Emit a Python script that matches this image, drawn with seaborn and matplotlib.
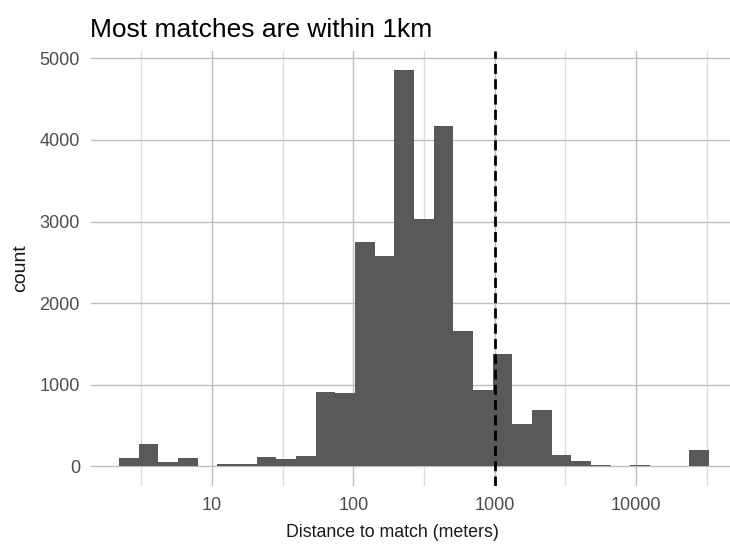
import numpy as np
import pandas as pd
import seaborn as sns
import matplotlib.pyplot as plt
from matplotlib.ticker import FixedLocator, FixedFormatter

# Histogram: bin centres (meters) and bar heights
bin_centers = [2.58, 3.55, 4.90, 6.75, 9.30, 12.8, 17.7, 24.3, 33.5, 46.2,
               63.6, 87.7, 121, 166, 229, 316, 435, 600, 826, 1139,
               1569, 2161, 2979, 4105, 5655, 7792, 10735, 14791, 20379, 28079]
counts = [100, 270, 50, 100, 5, 25, 25, 110, 85, 120,
          905, 895, 2745, 2573, 4853, 3027, 4167, 1654, 931, 1372,
          515, 686, 135, 61, 12, 3, 10, 4, 3, 196]
dist_range = (2.2, 32960)
cutoff = 1000

x_ticks = [10, 100, 1000, 10000]
x_minor = [3.16, 31.6, 316, 3162, 31623]
y_ticks = [0, 1000, 2000, 3000, 4000, 5000]

df = pd.DataFrame({"distance": bin_centers, "count": counts})

sns.set_theme(style="white")
plt.rcParams['font.family'] = ['Liberation Sans', 'DejaVu Sans']

fig = plt.figure(figsize=(7.3, 5.44), dpi=100)
ax = fig.add_axes([91 / 730, 58 / 544, 648 / 730, 435.4 / 544])

sns.histplot(data=df, x="distance", weights="count", bins=30,
             binrange=(np.log10(dist_range[0]), np.log10(dist_range[1])),
             log_scale=True, color="#595959", alpha=1, edgecolor="none",
             linewidth=0, ax=ax)

# dashed cut-off at 1 km
ax.axvline(cutoff, color="black", lw=2.0, ls=(0, (3.6, 1.9)))

ax.set_xlim(10 ** 0.144, 10 ** 4.730)
ax.set_ylim(-243, 5096)
ax.xaxis.set_major_locator(FixedLocator(x_ticks))
ax.xaxis.set_major_formatter(FixedFormatter([str(t) for t in x_ticks]))
ax.xaxis.set_minor_locator(FixedLocator(x_minor))
ax.yaxis.set_major_locator(FixedLocator(y_ticks))
ax.set_yticklabels([str(t) for t in y_ticks])

ax.set_axisbelow(True)
ax.grid(True, which="major", color="#bdbdbd", lw=1.0)
ax.grid(True, which="minor", axis="x", color="#dcdcdc", lw=1.0)
sns.despine(ax=ax, left=True, bottom=True)

ax.tick_params(axis="both", which="both", length=0, labelsize=13,
               labelcolor="#4d4d4d")
ax.tick_params(axis="y", pad=8)
ax.tick_params(axis="x", pad=8)

ax.set_xlabel("Distance to match (meters)", fontsize=12.8, color="#1a1a1a")
ax.set_ylabel("count", fontsize=14, color="#1a1a1a")
ax.xaxis.set_label_coords((392 - 91) / 648, (486 - 524) / 435.4)
ax.yaxis.set_label_coords((29 - 91) / 648, 0.5)

fig.text(90 / 730, 1 - 37 / 544, "Most matches are within 1km",
         fontsize=19, ha="left", va="baseline", color="black")

fig.savefig("out.png", dpi=100)
